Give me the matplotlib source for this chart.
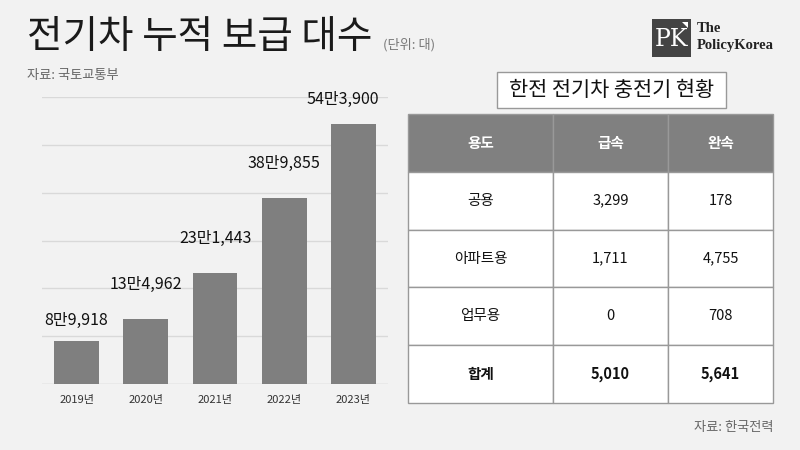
import matplotlib
matplotlib.use('Agg')
import matplotlib.pyplot as plt
from matplotlib.patches import Rectangle, Polygon

plt.rcParams['font.family'] = ['Noto Sans CJK KR', 'DejaVu Sans']

# Data: 전기차 누적 보급 대수 (국토교통부)
years = ['2019년', '2020년', '2021년', '2022년', '2023년']
ev_counts = [89918, 134962, 231443, 389855, 543900]
count_labels = ['8만9,918', '13만4,962', '23만1,443', '38만9,855', '54만3,900']

# Data: 한전 전기차 충전기 현황 (한국전력)
table_header = ['용도', '급속', '완속']
usage = ['공용', '아파트용', '업무용', '합계']
fast = ['3,299', '1,711', '0', '5,010']
slow = ['178', '4,755', '708', '5,641']

bg = '#f2f2f2'
fig = plt.figure(figsize=(8, 4.5), dpi=100, facecolor=bg)

def fx(px):
    return px / 800

def fy(py):
    return 1 - py / 450

# Title block
fig.text(fx(27), fy(37), '전기차 누적 보급 대수', fontsize=27.8, color='#1a1a1a', va='center')
fig.text(fx(383), fy(45), '(단위: 대)', fontsize=9.5, color='#777777', va='center')
fig.text(fx(27), fy(76), '자료: 국토교통부', fontsize=9.5, color='#666666', va='center')
fig.text(fx(773), fy(427), '자료: 한국전력', fontsize=9.5, color='#666666', va='center', ha='right')

# Logo
fig.patches.append(Rectangle((fx(652), fy(57)), fx(39), 38 / 450, transform=fig.transFigure,
                             facecolor='#444444', edgecolor='none'))
fig.patches.append(Polygon([(fx(682), fy(22)), (fx(688), fy(22)), (fx(688), fy(28))],
                           closed=True, transform=fig.transFigure, facecolor='white', edgecolor='none'))
fig.text(fx(671.5), fy(39), 'PK', fontsize=17, color='white', family='DejaVu Serif',
         ha='center', va='center')
fig.text(fx(697), fy(29), 'The', fontsize=10.5, color='#222222', family='Liberation Serif',
         weight='bold', va='center')
fig.text(fx(697), fy(45), 'PolicyKorea', fontsize=10.5, color='#222222', family='Liberation Serif',
         weight='bold', va='center')

# Bar chart
ax = fig.add_axes([fx(42), fy(384), fx(388) - fx(42), fy(97) - fy(384)])
ax.set_facecolor(bg)
x = range(len(years))
bars = ax.bar(x, ev_counts, width=0.65, color='#7f7f7f', zorder=3)
ax.set_xlim(-0.5, len(years) - 0.5)
ax.set_ylim(0, 600000)
ax.set_yticks(range(0, 600001, 100000))
ax.yaxis.grid(True, color='#d9d9d9', linewidth=1, zorder=0)
ax.tick_params(axis='y', left=False, labelleft=False)
ax.tick_params(axis='x', length=0, labelsize=8, labelcolor='#333333', pad=8)
ax.set_xticks(list(x))
ax.set_xticklabels(years)
for s in ax.spines.values():
    s.set_visible(False)
ax.axhline(0, color='#d9d9d9', linewidth=1, zorder=2)

offsets = [(0, 12), (0, 26), (0, 26), (0, 26), (-11, 16)]
for b, lab, off in zip(bars, count_labels, offsets):
    ax.annotate(lab, (b.get_x() + b.get_width() / 2, b.get_height()),
                xytext=off, textcoords='offset pixels', ha='center', va='bottom',
                fontsize=11.5, color='#111111', annotation_clip=False)

# Table title
fig.patches.append(Rectangle((fx(497), fy(108)), fx(229), 36 / 450, transform=fig.transFigure,
                             facecolor='white', edgecolor='#999999', linewidth=1))
fig.text(fx(611.5), fy(90), '한전 전기차 충전기 현황', fontsize=15, color='#111111',
         ha='center', va='center')

# Table
tax = fig.add_axes([fx(408), fy(403), fx(773) - fx(408), fy(114) - fy(403)])
tax.axis('off')
cells = [[u, f, s] for u, f, s in zip(usage, fast, slow)]
tbl = tax.table(cellText=cells, colLabels=table_header, cellLoc='center',
                colWidths=[145 / 365, 115 / 365, 105 / 365], bbox=[0, 0, 1, 1])
tbl.auto_set_font_size(False)
for (r, c), cell in tbl.get_celld().items():
    cell.set_edgecolor('#999999')
    cell.set_linewidth(1)
    txt = cell.get_text()
    txt.set_fontsize(10.5)
    if r == 0:
        cell.set_facecolor('#808080')
        txt.set_color('white')
        txt.set_weight('bold')
    else:
        cell.set_facecolor('white')
        txt.set_color('#111111')
        if r == len(usage):
            txt.set_weight('bold')

fig.savefig('out.png', dpi=100, facecolor=bg)
